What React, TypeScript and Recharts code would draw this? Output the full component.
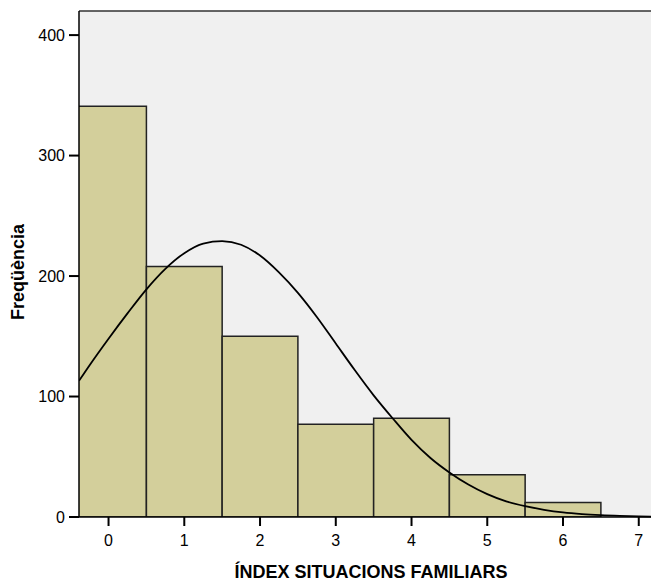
import React from 'react';
import {
  ComposedChart,
  Line,
  XAxis,
  YAxis,
  CartesianGrid,
  ReferenceArea,
  ReferenceLine,
  Label,
} from 'recharts';

// histogram bins (centre of each bin) and counts
const binCentres = [0, 1, 2, 3, 4, 5, 6];
const counts = [341, 208, 150, 77, 82, 35, 12];

// normal curve
const curveX = [
  -0.39, -0.25, 0, 0.25, 0.5, 0.75, 1, 1.25, 1.5, 1.75, 2, 2.25, 2.5, 2.75, 3, 3.25, 3.5,
  3.75, 4, 4.25, 4.5, 4.75, 5, 5.25, 5.5, 5.75, 6, 6.25, 6.5, 6.75, 7, 7.32,
];
const curveY = [
  113, 126, 148, 169, 189, 206, 219, 227, 229, 226, 217, 203, 186, 166, 144, 122, 101, 82,
  64, 49, 37, 27, 19, 13, 9, 6, 3.8, 2.4, 1.5, 0.9, 0.5, 0.3,
];

const xTicks = [0, 1, 2, 3, 4, 5, 6, 7];
const yTicks = [0, 100, 200, 300, 400];

const FONT = 'Arial, "Liberation Sans", sans-serif';
const BAR_FILL = '#d3cf9b';

const data = curveX.map((x, i) => ({ x, y: curveY[i] }));

export default function App() {
  return (
    <div style={{ width: 651, height: 573, overflow: 'hidden', fontFamily: FONT }}>
      <ComposedChart
        width={660}
        height={573}
        data={data}
        margin={{ top: 3, right: 5, bottom: 0, left: 0 }}
      >
        <CartesianGrid fill="#f0f0f0" horizontal={false} vertical={false} />
        <XAxis
          dataKey="x"
          type="number"
          domain={[-0.39, 7.32]}
          allowDataOverflow
          ticks={xTicks}
          height={64}
          tickSize={9}
          tickMargin={9}
          axisLine={{ stroke: '#000', strokeWidth: 1.5 }}
          tickLine={{ stroke: '#000', strokeWidth: 2 }}
          tick={{ fontSize: 16, fill: '#000', fontFamily: FONT }}
        >
          <Label
            value="ÍNDEX SITUACIONS FAMILIARS"
            position="insideBottom"
            offset={3}
            style={{ fontSize: 18, fontWeight: 'bold', fill: '#000', fontFamily: FONT }}
          />
        </XAxis>
        <YAxis
          type="number"
          domain={[0, 420]}
          ticks={yTicks}
          width={71}
          tickSize={10}
          tickMargin={4}
          axisLine={{ stroke: '#000', strokeWidth: 1.5 }}
          tickLine={{ stroke: '#000', strokeWidth: 2 }}
          tick={{ fontSize: 16, fill: '#000', fontFamily: FONT }}
        >
          <Label
            value="Freqüència"
            angle={-90}
            position="insideLeft"
            offset={10}
            dy={8}
            style={{
              fontSize: 18,
              fontWeight: 'bold',
              fill: '#000',
              fontFamily: FONT,
              textAnchor: 'middle',
            }}
          />
        </YAxis>
        <ReferenceLine y={420} stroke="#333" strokeWidth={1.5} />
        {binCentres.map((c, i) => (
          <ReferenceArea
            key={c}
            x1={c - 0.5}
            x2={c + 0.5}
            y1={0}
            y2={counts[i]}
            ifOverflow="hidden"
            fill={BAR_FILL}
            fillOpacity={1}
            stroke="#222"
            strokeWidth={1.5}
          />
        ))}
        <Line
          type="monotone"
          dataKey="y"
          stroke="#000"
          strokeWidth={1.8}
          dot={false}
          activeDot={false}
          isAnimationActive={false}
        />
      </ComposedChart>
    </div>
  );
}
